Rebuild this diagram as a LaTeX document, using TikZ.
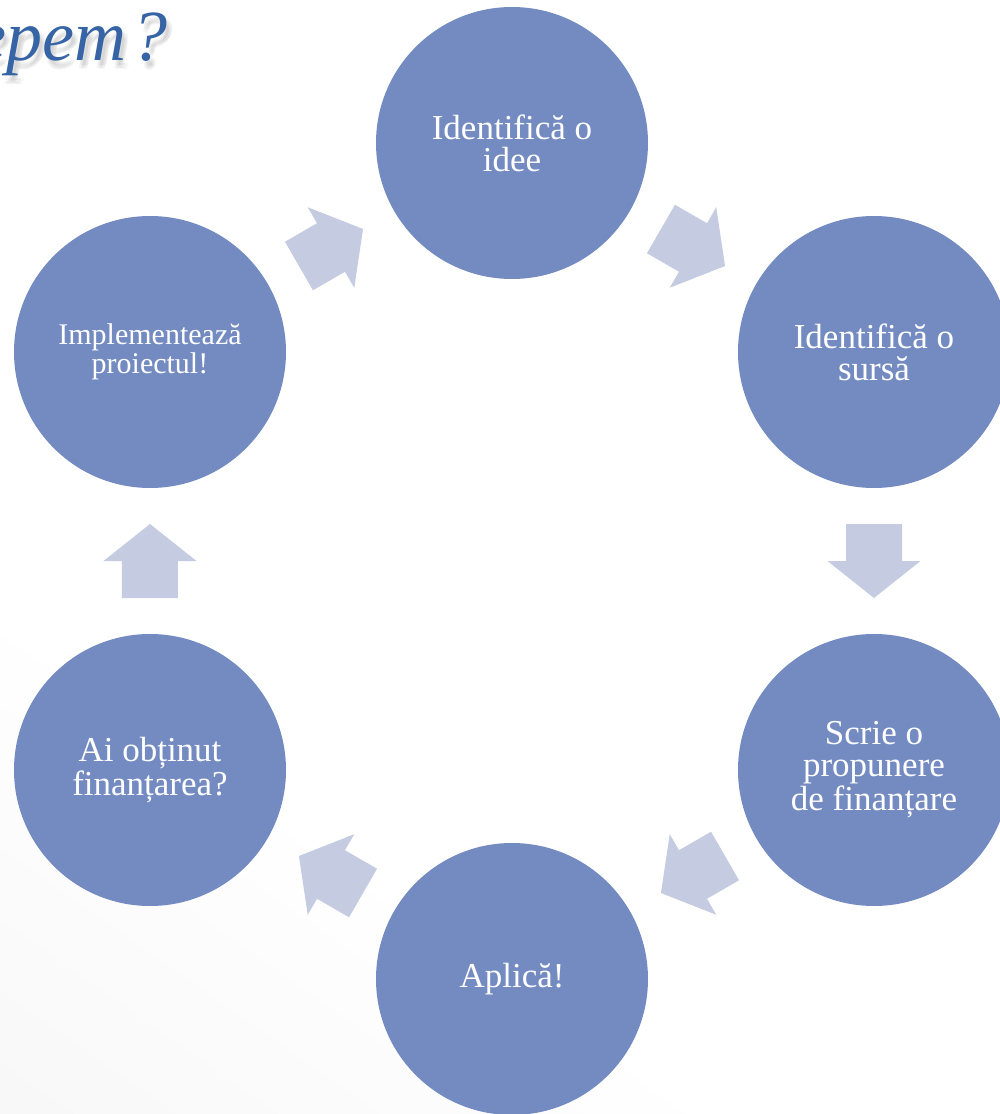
\documentclass[tikz,border=0pt]{standalone}
\usepackage{fontspec}
\setmainfont{Liberation Serif}
\usetikzlibrary{calc}

\definecolor{stepblue}{RGB}{116,139,194}
\definecolor{flowgray}{RGB}{197,203,224}
\definecolor{titleblue}{RGB}{54,100,164}

% page background: white, greying slightly towards the lower left corner
\pgfdeclareverticalshading{pagebg}{100bp}{color(0bp)=(black!5); color(35bp)=(white); color(100bp)=(white)}

\tikzset{
  stepcircle/.style={circle, fill=stepblue, draw=none, inner sep=0pt,
    minimum size=136pt, text=white, align=center,
    font=\fontsize{17.5}{16}\selectfont},
  smalltext/.style={font=\fontsize{15}{12.5}\selectfont},
  flowarrow/.style={fill=flowgray, draw=none},
  titletext/.style={anchor=base east, inner sep=0pt,
    font=\fontsize{36}{40}\selectfont\itshape},
}

% one block arrow pointing along +x, centred at the origin
\newcommand{\blockarrow}{%
  \fill[flowarrow] (-37,28) -- (0,28) -- (0,46.5) -- (37,0) -- (0,-46.5)
    -- (0,-28) -- (-37,-28) -- cycle;}
\newcommand{\titleword}{epem\kern2.5pt?}

\begin{document}
\begin{tikzpicture}[x=0.5pt,y=0.5pt]
  \useasboundingbox (-512,-553) rectangle (488,561);
  \clip (-512,-553) rectangle (488,561);
  \shade[shading=pagebg, shading angle=-35] (-512,-553) rectangle (488,561);

  % title with a soft drop shadow
  \foreach \dx/\dy in {3/-5,5/-7,4/-9,6/-5,2/-8}
    \node[titletext, text=black!50, opacity=0.07] at ({-344+\dx},{500+\dy}) {\titleword};
  \node[titletext, text=titleblue] (title) at (-344,500) {\titleword};

  % process steps around the ring
  \node[stepcircle] (s1) at (90:418)   {Identifică o\\idee};
  \node[stepcircle] (s2) at (30:418)   {Identifică o\\sursă};
  \node[stepcircle] (s3) at (-30:418)  {Scrie o\\propunere\\de finanțare};
  \node[stepcircle] (s4) at (-90:418)  {Aplică!};
  \node[stepcircle] (s5) at (-150:418) {Ai obținut\\finanțarea?};
  \node[stepcircle, smalltext] (s6) at (150:418) {Implementează\\proiectul!};

  % arrows between consecutive steps
  \coordinate (a1) at ($(s1)!0.5!(s2)$);
  \coordinate (a2) at ($(s2)!0.5!(s3)$);
  \coordinate (a3) at ($(s3)!0.5!(s4)$);
  \coordinate (a4) at ($(s4)!0.5!(s5)$);
  \coordinate (a5) at ($(s5)!0.5!(s6)$);
  \coordinate (a6) at ($(s6)!0.5!(s1)$);
  \begin{scope}[shift={(a1)}, rotate=-30]\blockarrow\end{scope}
  \begin{scope}[shift={(a2)}, rotate=-90]\blockarrow\end{scope}
  \begin{scope}[shift={(a3)}, rotate=-150]\blockarrow\end{scope}
  \begin{scope}[shift={(a4)}, rotate=150]\blockarrow\end{scope}
  \begin{scope}[shift={(a5)}, rotate=90]\blockarrow\end{scope}
  \begin{scope}[shift={(a6)}, rotate=30]\blockarrow\end{scope}
\end{tikzpicture}
\end{document}
